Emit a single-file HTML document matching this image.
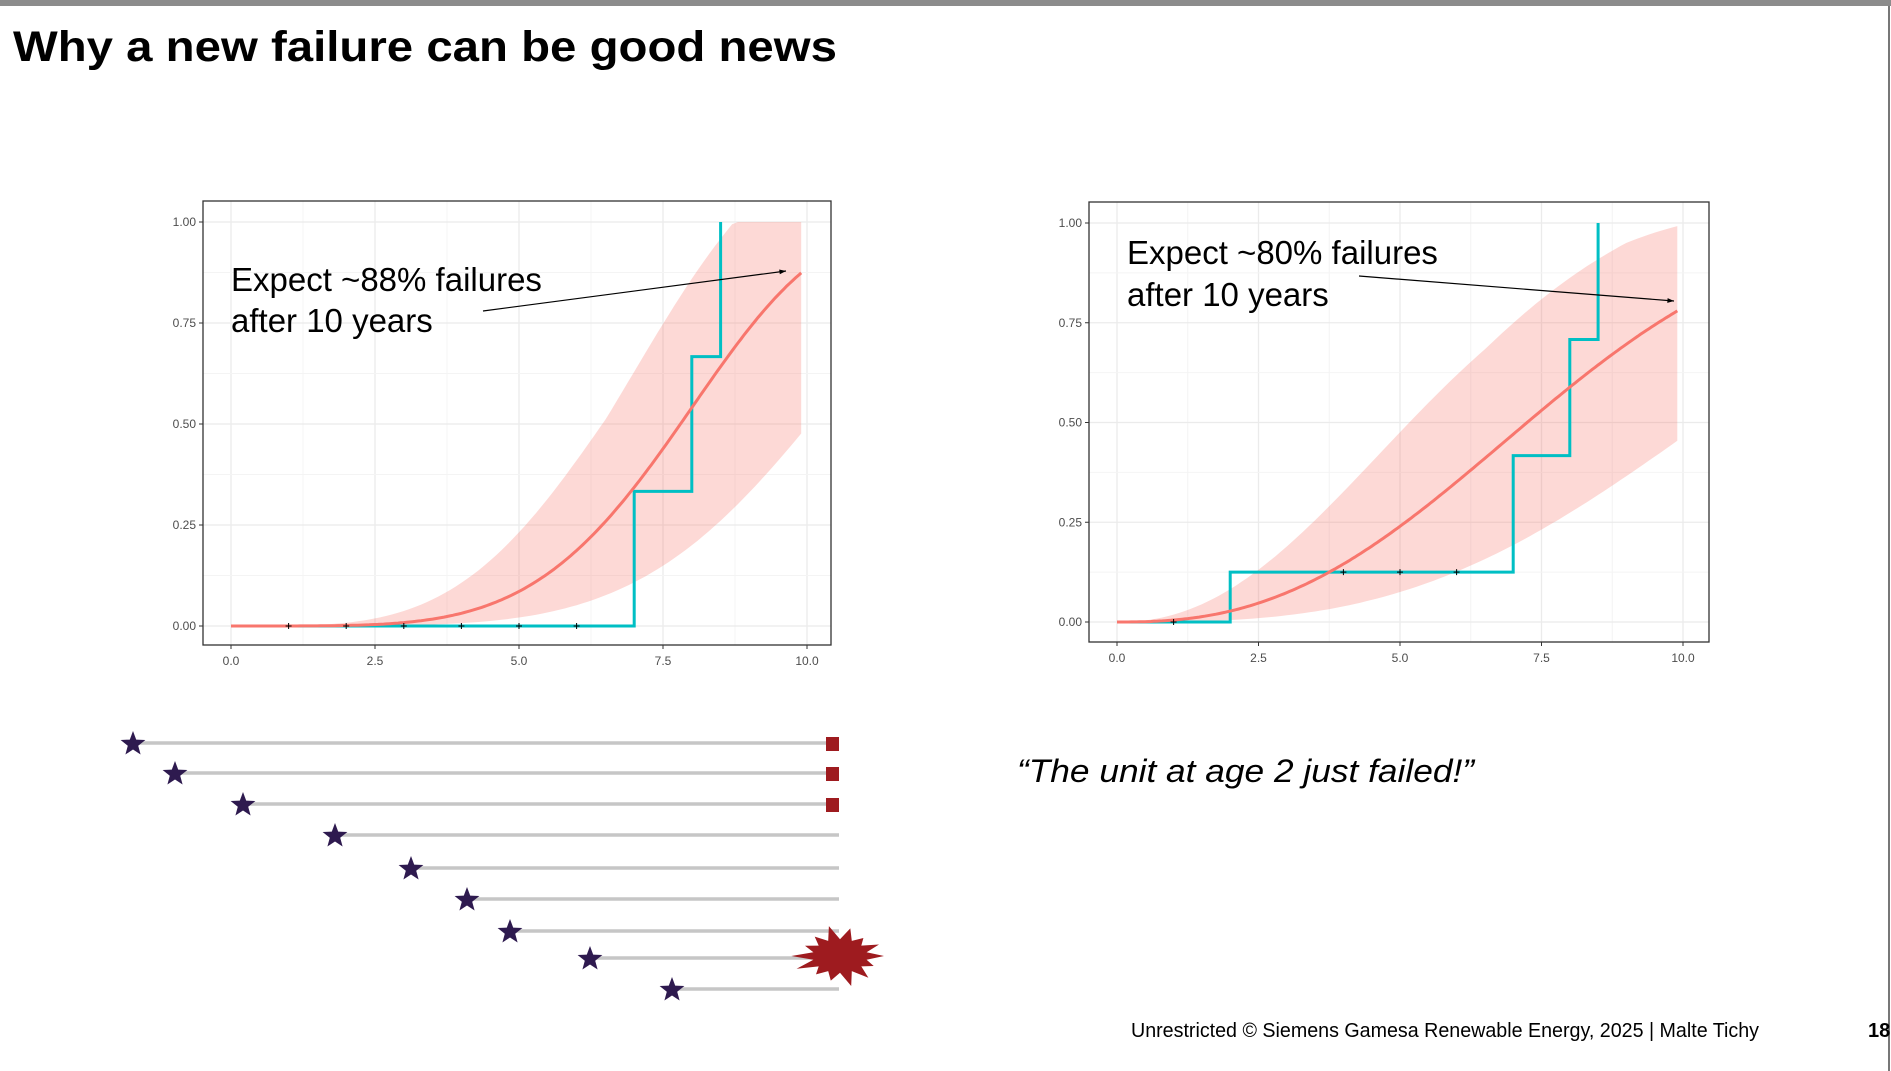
<!DOCTYPE html>
<html><head><meta charset="utf-8"><style>
html,body{margin:0;padding:0;background:#fff;}
svg{display:block;font-family:"Liberation Sans",sans-serif;}
</style></head><body>
<svg id="s" width="1891" height="1071" xmlns="http://www.w3.org/2000/svg">
<rect x="0" y="0" width="1891" height="6" fill="#8c8c8c"/>
<line x1="1889" y1="6" x2="1889" y2="1071" stroke="#777" stroke-width="2"/>
<text x="13" y="61" font-size="43" font-weight="bold" textLength="824" lengthAdjust="spacingAndGlyphs">Why a new failure can be good news</text>
<g id="p1"></g><g id="p2"></g>
<text x="1017" y="782" font-size="32" font-style="italic" textLength="457" lengthAdjust="spacingAndGlyphs">“The unit at age 2 just failed!”</text>
<text x="1131" y="1037" font-size="20" textLength="628" lengthAdjust="spacingAndGlyphs">Unrestricted © Siemens Gamesa Renewable Energy, 2025 | Malte Tichy</text>
<text x="1868" y="1037" font-size="20" font-weight="bold">18</text>
<g id="life"></g>
</svg>
<script>
const NS="http://www.w3.org/2000/svg";
function el(p,t,a,txt){const e=document.createElementNS(NS,t);for(const k in a)e.setAttribute(k,a[k]);if(txt!==undefined)e.textContent=txt;p.appendChild(e);return e;}
function wb(t,a,k,s){let v=1-Math.exp(-Math.pow(t/a,k));if(s){v*=1+s*Math.min(1,Math.max(0,(t-6.5)/2.5));}return Math.min(v,1);}
function plot(g,P){
 const X=t=>P.x0+(P.x1-P.x0)*t/10, Y=p=>P.y0-(P.y0-P.y1)*p;
 el(g,'rect',{x:P.L,y:P.T,width:P.R-P.L,height:P.B-P.T,fill:'#fff'});
 for(let i=0;i<=8;i++){const t=i*1.25;el(g,'line',{x1:X(t),x2:X(t),y1:P.T,y2:P.B,stroke:i%2?'#f4f4f4':'#ebebeb','stroke-width':i%2?1:1.3});}
 for(let i=0;i<=8;i++){const p=i*0.125;el(g,'line',{y1:Y(p),y2:Y(p),x1:P.L,x2:P.R,stroke:i%2?'#f4f4f4':'#ebebeb','stroke-width':i%2?1:1.3});}
 let up=[],lo=[];
 for(let t=0;t<=9.9001;t+=0.1){up.push(X(t).toFixed(1)+','+Y(wb(t,P.ua,P.uk,P.us)).toFixed(1));lo.push(X(t).toFixed(1)+','+Y(wb(t,P.la,P.lk)).toFixed(1));}
 el(g,'polygon',{points:up.concat(lo.reverse()).join(' '),fill:'#f8766d','fill-opacity':0.28});
 let s=P.steps, d='M'+X(0)+','+Y(0);
 for(const [t,p] of s){d+=' H'+X(t)+' V'+Y(p);}
 el(g,'path',{d:d,fill:'none',stroke:'#00bfc4','stroke-width':3});
 let c=[];for(let t=0;t<=9.9001;t+=0.05)c.push(X(t).toFixed(1)+','+Y(wb(t,P.ma,P.mk)).toFixed(1));
 el(g,'polyline',{points:c.join(' '),fill:'none',stroke:'#f8766d','stroke-width':3});
 for(const [t,p] of P.cens){el(g,'path',{d:`M${X(t)-3},${Y(p)} h6 M${X(t)},${Y(p)-3} v6`,stroke:'#000','stroke-width':1});}
 el(g,'rect',{x:P.L,y:P.T,width:P.R-P.L,height:P.B-P.T,fill:'none',stroke:'#333','stroke-width':1.3});
 for(let i=0;i<=4;i++){const p=i*0.25;el(g,'line',{x1:P.L-4,x2:P.L,y1:Y(p),y2:Y(p),stroke:'#333'});
  el(g,'text',{x:P.L-7,y:Y(p)+4,'font-size':12,fill:'#4d4d4d','text-anchor':'end'},p.toFixed(2));}
 for(let i=0;i<=4;i++){const t=i*2.5;el(g,'line',{x1:X(t),x2:X(t),y1:P.B,y2:P.B+4,stroke:'#333'});
  el(g,'text',{x:X(t),y:P.B+20,'font-size':12,fill:'#4d4d4d','text-anchor':'middle'},t.toFixed(1));}
 el(g,'text',{x:P.tx,y:P.ty1,'font-size':33,fill:'#000'},P.l1);
 el(g,'text',{x:P.tx,y:P.ty2,'font-size':33,fill:'#000'},'after 10 years');
 const [ax1,ay1,ax2,ay2]=P.arrow;
 el(g,'line',{x1:ax1,y1:ay1,x2:ax2,y2:ay2,stroke:'#000','stroke-width':1.2});
 const ang=Math.atan2(ay2-ay1,ax2-ax1),L=7;
 el(g,'polygon',{points:`${ax2},${ay2} ${ax2-L*Math.cos(ang-0.35)},${ay2-L*Math.sin(ang-0.35)} ${ax2-L*Math.cos(ang+0.35)},${ay2-L*Math.sin(ang+0.35)}`,fill:'#000'});
}
plot(document.getElementById('p1'),{L:203,R:831,T:201,B:645,x0:231,x1:807,y0:626,y1:222,
 ua:7.1,uk:3.8,us:0.14,la:10.8,lk:5,ma:8.45,mk:4.6,
 steps:[[7,1/3],[8,2/3],[8.5,1]],cens:[[1,0],[2,0],[3,0],[4,0],[5,0],[6,0]],
 tx:231,ty1:291,ty2:332,l1:'Expect ~88% failures',arrow:[483,311,786,271]});
plot(document.getElementById('p2'),{L:1089,R:1709,T:202,B:642,x0:1117,x1:1683,y0:622,y1:223,
 ua:6.1,uk:2.2,us:0.05,la:11.7,lk:3,ma:8.39,mk:2.5,
 steps:[[2,0.125],[7,0.417],[8,0.708],[8.5,1]],cens:[[1,0],[4,0.125],[5,0.125],[6,0.125]],
 tx:1127,ty1:264,ty2:306,l1:'Expect ~80% failures',arrow:[1359,276,1674,301]});
const lg=document.getElementById('life');
const rows=[[133,743],[175,773],[243,804],[335,835],[411,868],[467,899],[510,931],[590,958],[672,989]];
function star(cx,cy,R){let r=R*0.42,pts=[];for(let i=0;i<10;i++){const a=-Math.PI/2+i*Math.PI/5,rr=i%2?r:R;pts.push((cx+rr*Math.cos(a)).toFixed(1)+','+(cy+rr*Math.sin(a)).toFixed(1));}return pts.join(' ');}
rows.forEach(([x,y],i)=>{
 el(lg,'line',{x1:x,x2:839,y1:y,y2:y,stroke:'#c6c6c6','stroke-width':3.5});
 el(lg,'polygon',{points:star(x,y+1,13),fill:'#2e1a4f'});
 if(i<3)el(lg,'rect',{x:826,y:y-6,width:13,height:14,fill:'#9e1b1f'});
});
let b=[];for(let i=0;i<28;i++){const a=i*Math.PI/14,r=i%2?0.62:1+0.15*Math.sin(i*2.3);b.push((840+44*r*Math.cos(a)).toFixed(1)+','+(956+27*r*Math.sin(a)).toFixed(1));}
el(lg,'polygon',{points:b.join(' '),fill:'#9e1b1f'});
</script>
</body></html>
